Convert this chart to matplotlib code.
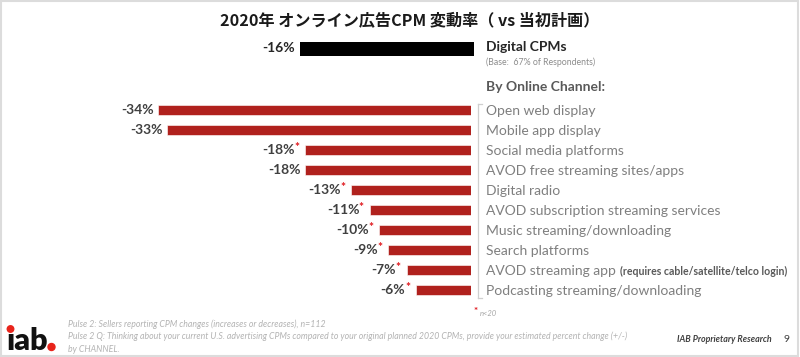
import matplotlib.pyplot as plt
from matplotlib.patches import Rectangle, Ellipse
from matplotlib.lines import Line2D

W, H = 800, 357

# ----------------------------------------
# data
# ----------------------------------------
title = "2020年 オンライン広告CPM 変動率（ vs 当初計画）"

digital_value = -16

channels = [
    "Open web display",
    "Mobile app display",
    "Social media platforms",
    "AVOD free streaming sites/apps",
    "Digital radio",
    "AVOD subscription streaming services",
    "Music streaming/downloading",
    "Search platforms",
    "AVOD streaming app",
    "Podcasting streaming/downloading",
]
values = [-34, -33, -18, -18, -13, -11, -10, -9, -7, -6]
small_n = [False, False, True, False, True, True, True, True, True, True]

footnotes = [
    "Pulse 2: Sellers reporting CPM changes (increases or decreases), n=112",
    "Pulse 2 Q: Thinking about your current U.S. advertising CPMs compared to your original planned 2020 CPMs, provide your estimated percent change (+/-)",
    "by CHANNEL.",
]

RED = "#B0211D"
STAR_RED = "#E0191F"
LABEL_GRAY = "#7F7F7F"
VAL_GRAY = "#404040"

plt.rcParams["font.family"] = ["Lato", "DejaVu Sans"]

fig = plt.figure(figsize=(W / 100, H / 100), dpi=100)


def px_text(x, y, s, **kw):
    return fig.text(x / W, 1 - y / H, s, **kw)


def px_axes(x0, y0, x1, y1):
    return fig.add_axes([x0 / W, 1 - y1 / H, (x1 - x0) / W, (y1 - y0) / H])


# =====================================================
# TITLE
# =====================================================
px_text(410, 20, title, ha="center", va="center", fontsize=11.6,
        fontweight="bold", family=["Noto Sans CJK JP", "DejaVu Sans"], color="#1a1a1a")

# =====================================================
# DIGITAL CPMs (separate scale)
# =====================================================
ax_d = px_axes(200, 41.5, 474, 55.5)
ax_d.barh([0], [digital_value], height=1.0, color="black")
ax_d.set_xlim(digital_value * 274 / 174, 0)
ax_d.set_ylim(-0.5, 0.5)
ax_d.axis("off")
ax_d.annotate(f"{digital_value}%", xy=(digital_value, 0), xytext=(-4, 0),
              textcoords="offset points", ha="right", va="center",
              fontsize=10, fontweight="bold", color="#262626")

px_text(486, 47, "Digital CPMs", ha="left", va="center", fontsize=10,
        fontweight="bold", color="#262626")
px_text(486, 62, "(Base:  67% of Respondents)", ha="left", va="center",
        fontsize=6.3, color="#8c8c8c")
px_text(486, 87, "By Online Channel:", ha="left", va="center", fontsize=10,
        fontweight="bold", color="#595959")

# =====================================================
# CHANNEL BARS
# =====================================================
ax = px_axes(100, 100, 471, 300)
rows = list(range(len(values)))
ax.barh(rows, values, height=0.48, color=RED, edgecolor="white", linewidth=0.4)
ax.set_xlim(-40.3, 0)
ax.set_ylim(len(values) - 0.5, -0.5)
ax.axis("off")

for i, (v, star) in enumerate(zip(values, small_n)):
    off = -7.5 if star else -3
    t = ax.annotate(f"{v}%", xy=(v, i), xytext=(off, 0),
                    textcoords="offset points", ha="right", va="center",
                    fontsize=10, fontweight="bold", color=VAL_GRAY)
    if star:
        ax.annotate("*", xy=(1, 0.5), xycoords=t, xytext=(-0.3, 1.5),
                    textcoords="offset points", ha="left", va="center",
                    fontsize=8.5, fontweight="bold", color=STAR_RED)

for i, name in enumerate(channels):
    t = px_text(486, 111 + 20 * i, name, ha="left", va="center",
                fontsize=10, color=LABEL_GRAY)
    if name == "AVOD streaming app":
        fig.add_artist(plt.Annotation(
            "(requires cable/satellite/telco login)", xy=(1, 0.5), xycoords=t,
            xytext=(3, -0.5), textcoords="offset points", ha="left", va="center",
            fontsize=7.6, fontweight="bold", color="#595959"))

# bracket next to the labels
bx, by0, by1 = 478, 104, 298
for xs, ys in [((bx, bx), (by0, by1)), ((bx, bx + 4), (by0, by0)), ((bx, bx + 4), (by1, by1))]:
    fig.add_artist(Line2D([s / W for s in xs], [1 - s / H for s in ys],
                          color="#cfcfcf", linewidth=0.9))

# =====================================================
# FOOTER
# =====================================================
px_text(474, 312, "*", ha="left", va="center", fontsize=7, color=STAR_RED,
        fontweight="bold")
px_text(480, 313, "n<20", ha="left", va="center", fontsize=5.5,
        color="#a6a6a6", style="italic")

for k, line in enumerate(footnotes):
    px_text(68, 324 + 12.5 * k, line, ha="left", va="center", fontsize=6.3,
            color="#b3b3b3", style="italic")

px_text(724, 340, "IAB Proprietary Research", ha="center", va="center",
        fontsize=6.4, color="#404040", style="italic", fontweight="bold")
px_text(786, 339, "9", ha="center", va="center", fontsize=7.5, color="#404040")

# iab logo (dotless i + red dots)
px_text(6, 350, "\u0131ab", ha="left", va="baseline", fontsize=22,
        fontweight="heavy", color="#111111")
fig.add_artist(Ellipse((10.5 / W, 1 - 329 / H), 6.5 / W, 6.5 / H,
                       color="#E8241B", transform=fig.transFigure))
fig.add_artist(Ellipse((51.5 / W, 1 - 347 / H), 7 / W, 7 / H,
                       color="#E8241B", transform=fig.transFigure))

# frame
fig.add_artist(Rectangle((0.001, 0.002), 0.997, 0.995, transform=fig.transFigure,
                         fill=False, edgecolor="#dcdcdc", linewidth=1.5))

fig.savefig("out.png", dpi=100)
